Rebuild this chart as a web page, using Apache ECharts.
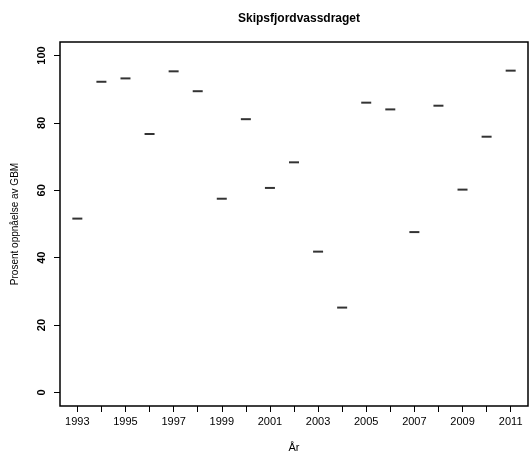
<!DOCTYPE html>
<html>
<head>
<meta charset="utf-8">
<script src="https://cdn.jsdelivr.net/npm/echarts@6/dist/echarts.min.js"></script>
<style>html,body{margin:0;padding:0;background:#fff}#c{width:530px;height:462px}</style>
</head>
<body>
<div id="c"></div>
<script>
const years = [1993,1994,1995,1996,1997,1998,1999,2000,2001,2002,2003,2004,2005,2006,2007,2008,2009,2010,2011];
const values = [51.6,92.2,93.2,76.7,95.3,89.4,57.5,81.1,60.7,68.3,41.8,25.2,86.0,84.0,47.6,85.1,60.2,75.9,95.5];
const xLabelYears = [1993,1995,1997,1999,2001,2003,2005,2007,2009,2011];
const yTicks = [0,20,40,60,80,100];
const titleText = 'Skipsfjordvassdraget';
const xName = 'År';
const yName = 'Prosent oppnåelse av GBM';

const font = 'Liberation Sans, Arial, sans-serif';
const chart = echarts.init(document.getElementById('c'));
chart.setOption({
  animation: false,
  backgroundColor: '#fff',
  title: {
    text: titleText, left: 294, top: 8, textAlign: 'center',
    textStyle: {fontFamily: font, fontSize: 12, fontWeight: 'bold', color: '#000'}
  },
  grid: {left: 60, right: 2, top: 42, bottom: 56, show: true, borderColor: '#000', borderWidth: 1.5, backgroundColor: 'transparent'},
  xAxis: {
    type: 'value', min: 1992.28, max: 2011.72,
    name: xName, nameLocation: 'middle', nameGap: 36,
    nameTextStyle: {fontFamily: font, fontSize: 11, color: '#000'},
    axisLine: {show: false, onZero: false},
    splitLine: {show: false},
    axisTick: {show: true, length: 6, customValues: years, lineStyle: {color: '#000', width: 1}},
    axisLabel: {customValues: xLabelYears, margin: 10, fontFamily: font, fontSize: 11, color: '#000', formatter: v => String(v)}
  },
  yAxis: {
    type: 'value', min: -4, max: 104,
    name: yName, nameLocation: 'middle', nameGap: 40, nameRotate: 90,
    nameTextStyle: {fontFamily: font, fontSize: 10, color: '#000'},
    axisLine: {show: false, onZero: false},
    splitLine: {show: false},
    axisTick: {show: true, length: 6, customValues: yTicks, lineStyle: {color: '#000', width: 1}},
    axisLabel: {customValues: yTicks, rotate: 90, margin: 13, fontFamily: font, fontSize: 11, fontWeight: 'bold', color: '#000'}
  },
  series: [{
    type: 'scatter',
    data: years.map((y, i) => [y, values[i]]),
    symbol: 'rect',
    symbolSize: [10, 2],
    itemStyle: {color: '#000'}
  }]
});
</script>
</body>
</html>
